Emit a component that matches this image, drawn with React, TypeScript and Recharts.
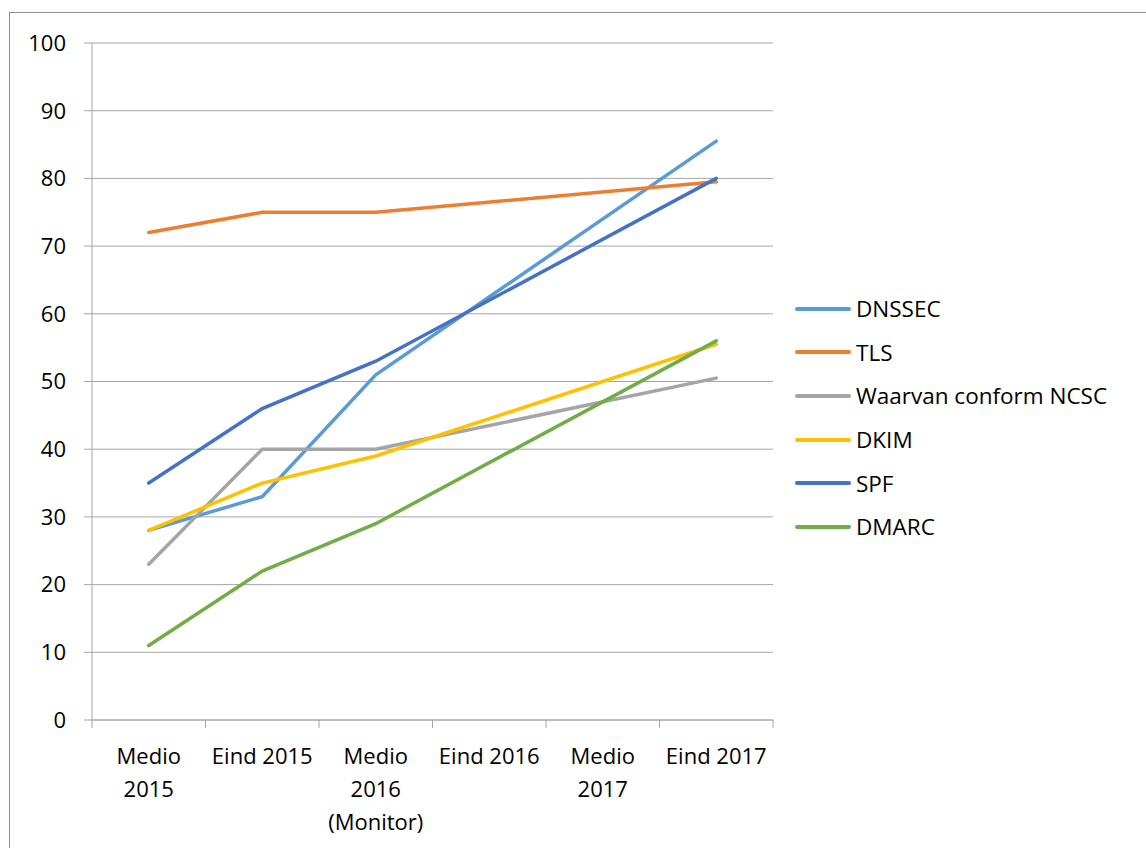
import React from "react";
import { LineChart, Line, XAxis, YAxis, CartesianGrid, Legend } from "recharts";

// category labels, already broken the way the axis wraps them
const CATEGORIES = [
  ["Medio", "2015"],
  ["Eind 2015"],
  ["Medio", "2016", "(Monitor)"],
  ["Eind 2016"],
  ["Medio", "2017"],
  ["Eind 2017"],
];

const DNSSEC = [28, 33, 51, null, null, 85.5];
const TLS = [72, 75, 75, null, null, 79.5];
const NCSC = [23, 40, 40, null, null, 50.5];
const DKIM = [28, 35, 39, null, null, 55.5];
const SPF = [35, 46, 53, null, null, 80];
const DMARC = [11, 22, 29, null, null, 56];

const Y_TICKS = [0, 10, 20, 30, 40, 50, 60, 70, 80, 90, 100];

const SERIES = [
  { key: "dnssec", name: "DNSSEC", color: "#5B9BD5", values: DNSSEC },
  { key: "tls", name: "TLS", color: "#ED7D31", values: TLS },
  { key: "ncsc", name: "Waarvan conform NCSC", color: "#A5A5A5", values: NCSC },
  { key: "dkim", name: "DKIM", color: "#FFC000", values: DKIM },
  { key: "spf", name: "SPF", color: "#4472C4", values: SPF },
  { key: "dmarc", name: "DMARC", color: "#70AD47", values: DMARC },
];

const FONT = "'Open Sans', sans-serif";
const GRID = "#a6a6a6";

const WIDTH = 1146;
const HEIGHT = 848;
const Y_AXIS_W = 92;
const RIGHT = 373;
const PLOT_W = WIDTH - Y_AXIS_W - RIGHT;
const BAND = PLOT_W / CATEGORIES.length;

// x runs over category boundaries 0..n, points sit at band centres
const chartData = CATEGORIES.map((_, i) => {
  const row: Record<string, number | null> = { x: i + 0.5 };
  SERIES.forEach((s) => {
    row[s.key] = s.values[i];
  });
  return row;
});
const X_BOUNDS = Array.from({ length: CATEGORIES.length + 1 }, (_, i) => i);

function CategoryTick(props: any) {
  const { x, y, payload } = props;
  const lines = CATEGORIES[payload.value];
  if (!lines) return null;
  const cx = x + BAND / 2;
  return (
    <text x={cx} y={y} textAnchor="middle" fontFamily={FONT} fontSize={22} fill="#000">
      {lines.map((l, i) => (
        <tspan key={i} x={cx} dy={i === 0 ? 36 : 33}>
          {l}
        </tspan>
      ))}
    </text>
  );
}

function LegendContent(props: any) {
  const order = SERIES.map((s) => s.name);
  // keep series order instead of alphabetical
  const items = [...(props.payload || [])].sort(
    (a: any, b: any) => order.indexOf(a.value) - order.indexOf(b.value)
  );
  return (
    <div style={{ fontFamily: FONT, fontSize: 22.5, color: "#000" }}>
      {items.map((p: any) => (
        <div key={p.value} style={{ display: "flex", alignItems: "center", height: 43.6 }}>
          <svg width={56} height={6}>
            <line x1={2} x2={54} y1={3} y2={3} stroke={p.color} strokeWidth={4} strokeLinecap="round" />
          </svg>
          <span style={{ marginLeft: 5, whiteSpace: "nowrap" }}>{p.value}</span>
        </div>
      ))}
    </div>
  );
}

export default function App() {
  return (
    <div
      style={{
        position: "absolute",
        left: 0,
        top: 0,
        width: WIDTH,
        height: HEIGHT,
        overflow: "hidden",
        background: "#fff",
      }}
    >
      <div
        style={{
          position: "absolute",
          left: 9,
          top: 12,
          width: WIDTH,
          height: HEIGHT,
          border: "1px solid #8c8c8c",
        }}
      />
      <div style={{ position: "absolute", left: 0, top: 0 }}>
        <LineChart
          width={WIDTH}
          height={HEIGHT}
          data={chartData}
          margin={{ top: 43, right: RIGHT, left: 0, bottom: 0 }}
        >
          <CartesianGrid vertical={false} stroke={GRID} strokeWidth={1} />
          <XAxis
            dataKey="x"
            type="number"
            domain={[0, CATEGORIES.length]}
            ticks={X_BOUNDS}
            interval={0}
            tick={<CategoryTick />}
            tickSize={8}
            tickMargin={0}
            tickLine={{ stroke: GRID }}
            axisLine={{ stroke: GRID }}
            height={128}
          />
          <YAxis
            domain={[0, 100]}
            ticks={Y_TICKS}
            interval={0}
            width={Y_AXIS_W}
            tickSize={8}
            tickMargin={18}
            tick={{ fill: "#000", fontSize: 22, fontFamily: FONT }}
            tickLine={{ stroke: GRID }}
            axisLine={{ stroke: GRID }}
          />
          <Legend
            layout="vertical"
            align="center"
            verticalAlign="middle"
            content={<LegendContent />}
            wrapperStyle={{ left: 795, top: 287, width: 340 }}
          />
          {SERIES.map((s) => (
            <Line
              key={s.key}
              type="linear"
              dataKey={s.key}
              name={s.name}
              stroke={s.color}
              strokeWidth={3.5}
              strokeLinecap="round"
              dot={false}
              activeDot={false}
              connectNulls
              isAnimationActive={false}
            />
          ))}
        </LineChart>
      </div>
    </div>
  );
}
